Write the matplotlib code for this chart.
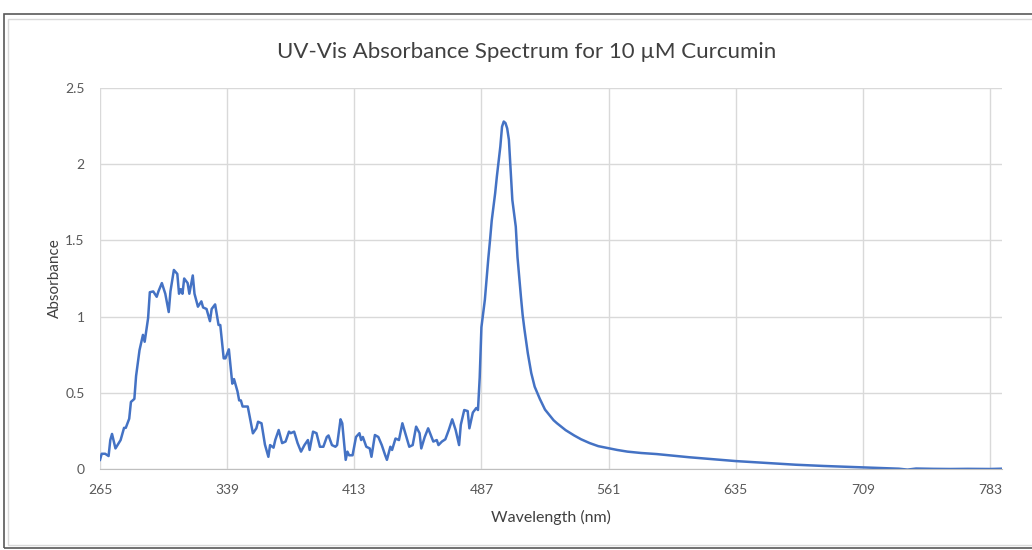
import matplotlib.pyplot as plt
from matplotlib.patches import Rectangle

longitud_onda = [
    265, 266, 268, 270, 271, 272, 274, 277, 279, 280, 282, 283, 285, 286, 288,
    290, 291, 293, 294, 296, 298, 299, 301, 303, 305, 306, 308, 310, 311, 312,
    313, 314, 316, 317, 319, 320, 322, 324, 325, 327, 329, 330, 332, 334, 335,
    337, 338, 340, 341, 342, 343, 345, 346, 347, 348, 351, 354, 356, 357, 359,
    361, 363, 364, 366, 367, 369, 371, 373, 375, 376, 378, 380, 382, 384, 386,
    387, 389, 391, 393, 395, 397, 398, 400, 402, 403, 405, 406, 408, 409, 410,
    412, 414, 416, 417, 418, 420, 422, 423, 425, 427, 429, 431, 432, 434, 435,
    437, 439, 441, 443, 445, 447, 449, 451, 452, 454, 456, 458, 459, 461, 462,
    464, 466, 468, 470, 472, 474, 475, 477, 479, 480, 482, 484, 485, 486, 487,
    489, 491, 492, 493, 495, 496, 498, 499, 500, 501, 502, 503, 504, 505, 507,
    508, 509, 510, 511, 512, 514, 516, 518, 521, 524, 529, 531, 536, 541, 545,
    550, 555, 561, 566, 572, 580, 589, 598, 608, 620, 635, 645, 657, 670, 686,
    698, 709, 720, 730, 735, 740, 750, 760, 770, 783, 790,
]
absorbancia = [
    0.06, 0.10, 0.10, 0.085, 0.19, 0.23, 0.135, 0.19, 0.27, 0.27, 0.33, 0.44, 0.46, 0.61, 0.78,
    0.88, 0.835, 0.99, 1.16, 1.165, 1.13, 1.165, 1.22, 1.15, 1.03, 1.165, 1.306, 1.28, 1.15, 1.18,
    1.15, 1.25, 1.22, 1.15, 1.27, 1.15, 1.065, 1.10, 1.06, 1.05, 0.97, 1.05, 1.08, 0.945, 0.945,
    0.726, 0.726, 0.785, 0.67, 0.56, 0.59, 0.51, 0.45, 0.45, 0.41, 0.41, 0.234, 0.267, 0.31, 0.30,
    0.16, 0.08, 0.157, 0.14, 0.19, 0.256, 0.17, 0.18, 0.245, 0.235, 0.245, 0.17, 0.114, 0.157, 0.19,
    0.125, 0.245, 0.235, 0.146, 0.146, 0.21, 0.22, 0.157, 0.146, 0.157, 0.326, 0.30, 0.06, 0.114, 0.09,
    0.09, 0.21, 0.235, 0.19, 0.21, 0.146, 0.135, 0.08, 0.223, 0.21, 0.157, 0.09, 0.06, 0.146, 0.125,
    0.20, 0.19, 0.30, 0.223, 0.146, 0.157, 0.278, 0.235, 0.135, 0.21, 0.267, 0.21, 0.18, 0.19, 0.157,
    0.18, 0.195, 0.256, 0.326, 0.256, 0.157, 0.29, 0.387, 0.38, 0.267, 0.37, 0.40, 0.387, 0.60, 0.93,
    1.11, 1.38, 1.50, 1.63, 1.81, 1.92, 2.115, 2.246, 2.28, 2.27, 2.235, 2.16, 1.96, 1.765, 1.59,
    1.39, 1.26, 1.13, 1.01, 0.92, 0.76, 0.63, 0.54, 0.46, 0.39, 0.32, 0.30, 0.255, 0.22, 0.195,
    0.17, 0.15, 0.136, 0.125, 0.114, 0.105, 0.098, 0.088, 0.077, 0.066, 0.052, 0.045, 0.037, 0.028, 0.02,
    0.015, 0.011, 0.006, 0.002, -0.004, 0.003, 0.001, 0.0, 0.001, 0.0, 0.002,
]

# Etiquetas del eje de categorias (cada 74 nm)
ticks_x = [265, 339, 413, 487, 561, 635, 709, 783]
ticks_y = [0, 0.5, 1, 1.5, 2, 2.5]
etiquetas_y = ['0', '0.5', '1', '1.5', '2', '2.5']

plt.rcParams['font.family'] = ['Lato', 'DejaVu Sans']
gris_texto = '#595959'

fig = plt.figure(figsize=(10.32, 5.5), dpi=100)

# Marco del grafico (estilo Excel)
fig.patches.append(Rectangle((4 / 1032, 2 / 550), 1.1, 534 / 550, transform=fig.transFigure,
                             fill=False, edgecolor='#595959', linewidth=1.2))
fig.patches.append(Rectangle((8 / 1032, 5 / 550), 1.1, 526 / 550, transform=fig.transFigure,
                             fill=False, edgecolor='#d9d9d9', linewidth=1.0))

ax = fig.add_axes([100 / 1032, 81 / 550, 902 / 1032, 381 / 550])
ax.plot(longitud_onda, absorbancia, color='#4472C4', linewidth=1.8)

ax.set_xlim(265, 790)
ax.set_ylim(0, 2.5)
ax.set_xticks(ticks_x)
ax.set_yticks(ticks_y)
ax.set_yticklabels(etiquetas_y)
ax.grid(True, color='#d9d9d9', linewidth=1.0)
ax.set_axisbelow(True)

for lado in ['top', 'right', 'left']:
    ax.spines[lado].set_visible(False)
ax.spines['bottom'].set_color('#bfbfbf')
ax.tick_params(length=0, labelsize=10, colors=gris_texto, pad=11)

# Titulo centrado en el area del grafico
fig.text(527 / 1032, 1 - 52 / 550, 'UV-Vis Absorbance Spectrum for 10 µM Curcumin',
         fontsize=16, color='#404040', ha='center', va='center')
ax.set_xlabel('Wavelength (nm)', fontsize=11.5, color='#404040', labelpad=10)
ax.set_ylabel('Absorbance', fontsize=11, color='#404040', labelpad=2)

plt.savefig('out.png', dpi=100)
